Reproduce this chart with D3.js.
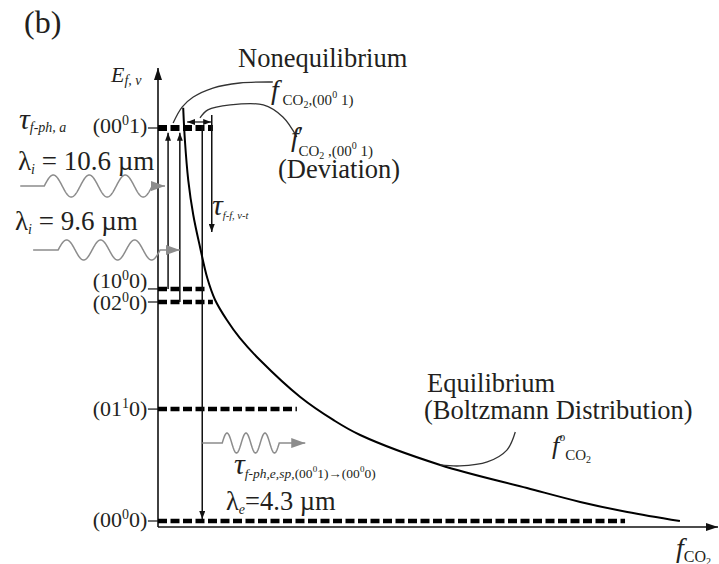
<!DOCTYPE html>
<html>
<head>
<meta charset="utf-8">
<script src="https://cdn.jsdelivr.net/npm/d3@7"></script>
<style>
body { margin: 0; background: #fff; }
text { font-family: "Liberation Serif", "Times New Roman", serif; fill: #231f20; }
</style>
</head>
<body>
<svg id="chart" width="719" height="564"></svg>
<script>
// CO2 vibrational levels, energy in cm^-1
const levelLabels = [["(00", "0", "1)"], ["(10", "0", "0)"], ["(02", "0", "0)"], ["(01", "1", "0)"], ["(00", "0", "0)"]];
const levelE = [2349, 1387, 1309, 669, 0];
const levelEndF = [9.8, 8.8, 9.8, 24.8, 83.4];

// distribution curve f_CO2 (arbitrary units) vs energy
const curveF = [4.5, 4.8, 5.4, 6.3, 7.5, 8.8, 10.2, 12.3, 14.6, 18.2, 25.4, 31.3, 36.1, 50.4, 65.9, 75.4, 83.8, 93.2];
const curveE = [2470, 2277, 2038, 1829, 1638, 1452, 1321, 1201, 1094, 962, 741, 604, 514, 335, 197, 114, 54, 0];

// transitions: position on f axis, from energy, to energy
const transF = [1.8, 3.9, 7.9, 9.6];
const transFromE = [1387, 1309, 2367, 2427];
const transToE = [2320, 2320, 12, 1727];

// deviation double arrow
const devF = [5.2, 9.5];
const devE = 2385;

// photons: start f, arrow tip f, energy level of the wave
const photonStartF = [-24.6, -22.3, 7.9];
const photonEndF = [1.25, 3.9, 26.3];
const photonE = [2002, 1620, 466];

// leader curves [f, E]
const leaderNoneq = [[2.7, 2379], [4.3, 2474], [6.3, 2534], [9.8, 2588], [14.6, 2618], [20.5, 2624]];
const leaderDev = [[7.5, 2409], [8.9, 2457], [12.9, 2487], [18.8, 2487], [22.3, 2415], [24.8, 2295]];
const leaderEq = [[63.8, 532], [62.3, 424], [58.8, 353], [53.9, 329], [50.4, 335]];

const svg = d3.select("#chart");
const x = d3.scaleLinear().domain([0, 100]).range([158, 718]);
const y = d3.scaleLinear().domain([0, 2349]).range([521, 128]);
const axisBottomE = -36, axisTopE = 2708;

const defs = svg.append("defs");
function marker(id, len, wid, color) {
    defs.append("marker")
        .attr("id", id)
        .attr("markerUnits", "userSpaceOnUse")
        .attr("markerWidth", len).attr("markerHeight", wid)
        .attr("refX", len).attr("refY", wid / 2)
        .attr("orient", "auto-start-reverse")
        .append("path")
        .attr("d", `M0,0L${len},${wid / 2}L0,${wid}Z`)
        .attr("fill", color);
}
marker("ax", 12, 8, "#111");
marker("tr", 8, 6, "#111");
marker("gr", 14, 10, "#8c8c8c");

// axes
svg.append("line")
    .attr("x1", x(0)).attr("y1", y(axisBottomE))
    .attr("x2", x(0)).attr("y2", y(axisTopE))
    .attr("stroke", "#111").attr("stroke-width", 1.6)
    .attr("marker-end", "url(#ax)");
svg.append("line")
    .attr("x1", x(0)).attr("y1", y(axisBottomE))
    .attr("x2", x(100)).attr("y2", y(axisBottomE))
    .attr("stroke", "#111").attr("stroke-width", 1.6)
    .attr("marker-end", "url(#ax)");

// rich text helper: parts = [text, size, offset from baseline, italic, dx]
function rich(px, py, parts, anchor) {
    const t = svg.append("text").attr("x", px).attr("y", py)
        .attr("text-anchor", anchor || "start");
    let cur = 0;
    parts.forEach(p => {
        t.append("tspan")
            .attr("dy", p[2] - cur)
            .attr("dx", p[4] || 0)
            .attr("font-size", p[1])
            .attr("font-style", p[3] ? "italic" : "normal")
            .text(p[0]);
        cur = p[2];
    });
    return t;
}

// energy levels
const labelDy = [5, -1, 8, 7, 6];
levelE.forEach((e, i) => {
    svg.append("line")
        .attr("x1", x(-1.8)).attr("x2", x(0))
        .attr("y1", y(e)).attr("y2", y(e))
        .attr("stroke", "#111").attr("stroke-width", 1.2);
    svg.append("line")
        .attr("x1", x(0)).attr("x2", x(levelEndF[i]))
        .attr("y1", y(e)).attr("y2", y(e))
        .attr("stroke", "#000")
        .attr("stroke-width", i === 0 ? 6 : 4.5)
        .attr("stroke-dasharray", "9,3.5");
    const lb = levelLabels[i];
    rich(x(-1.9), y(e) + labelDy[i], [[lb[0], 22, 0], [lb[1], 14, -8], [lb[2], 22, 0]], "end");
});

// transitions
transF.forEach((f, i) => {
    svg.append("line")
        .attr("x1", x(f)).attr("x2", x(f))
        .attr("y1", y(transFromE[i])).attr("y2", y(transToE[i]))
        .attr("stroke", "#111").attr("stroke-width", 1.5)
        .attr("marker-end", "url(#tr)");
});
svg.append("line")
    .attr("x1", x(devF[0])).attr("x2", x(devF[1]))
    .attr("y1", y(devE)).attr("y2", y(devE))
    .attr("stroke", "#111").attr("stroke-width", 1.2)
    .attr("marker-start", "url(#tr)").attr("marker-end", "url(#tr)");

// distribution curve
const line = d3.line().x(d => x(d[0])).y(d => y(d[1])).curve(d3.curveCatmullRom);
svg.append("path")
    .attr("d", line(curveF.map((f, i) => [f, curveE[i]])))
    .attr("fill", "none").attr("stroke", "#000").attr("stroke-width", 2);

// leader curves
[leaderNoneq, leaderDev, leaderEq].forEach(pts => {
    svg.append("path")
        .attr("d", line(pts))
        .attr("fill", "none").attr("stroke", "#333").attr("stroke-width", 1.3);
});

// photons
const waveShape = [[24, 3, 36, 11], [25, 3, 34, 10], [20, 3, 19, 10]]; // lead, cycles, period, amplitude
photonE.forEach((e, i) => {
    const [lead, cycles, period, amp] = waveShape[i];
    const x0 = x(photonStartF[i]), x1 = x(photonEndF[i]), yc = y(e);
    const ws = x0 + lead, we = ws + cycles * period;
    const pts = [[x0, yc]];
    for (let px = ws; px <= we; px += 0.5) {
        pts.push([px, yc - amp * Math.sin(2 * Math.PI * (px - ws) / period)]);
    }
    pts.push([x1, yc]);
    svg.append("path")
        .attr("d", d3.line()(pts))
        .attr("fill", "none").attr("stroke", "#8c8c8c").attr("stroke-width", 1.5)
        .attr("marker-end", "url(#gr)");
});

// texts
rich(24, 33, [["(b)", 32, 0]]);
rich(111, 82, [["E", 22, 0, true], ["f, v", 14, 3, true]]);
rich(238, 67, [["Nonequilibrium", 26.5, 0]]);
rich(271, 99, [["f", 28, 0, true], [" CO", 15, 6], ["2", 10, 9], [",(00", 15, 6], ["0", 10, -1], [" 1)", 15, 6]]);
rich(291, 146, [["f", 28, 0, true], ["'", 22, -4, true, -2], ["CO", 15, 10, false, -3], ["2", 10, 13], [" ,(00", 15, 10], ["0", 10, 3], [" 1)", 15, 10]]);
rich(278, 178, [["(Deviation)", 26.5, 0]]);
rich(212, 215, [["\u03c4", 30, 0, true], ["f-f, v-t", 10.5, 4, true]]);
rich(19, 129, [["\u03c4", 30, 0, true], ["f-ph, a", 14, 3, true]]);
rich(18, 170, [["\u03bb", 27, 0], ["i", 14, 4, true], [" = 10.6 \u00b5m", 27, 0]]);
rich(15, 230, [["\u03bb", 27, 0], ["i", 14, 4, true], [" = 9.6 \u00b5m", 27, 0]]);
rich(234, 474, [["\u03c4", 30, 0, true], ["f-ph,e,sp,", 13.5, 4, true], ["(00", 13.5, 4], ["0", 9, -2], ["1)\u2192(00", 13.5, 4], ["0", 9, -2], ["0)", 13.5, 4]]);
rich(226, 510, [["\u03bb", 26.5, 0], ["e", 14, 4, true], ["=4.3 \u00b5m", 26.5, 0]]);
rich(427, 392, [["Equilibrium", 26.5, 0]]);
rich(424, 419, [["(Boltzmann Distribution)", 26.5, 0]]);
rich(552, 454, [["f", 26, 0, true], ["o", 12, -13], ["CO", 15, 6], ["2", 10, 9]]);
rich(676, 557, [["f", 28, 0, true], ["CO", 16, 5], ["2", 10, 8]]);
</script>
</body>
</html>
